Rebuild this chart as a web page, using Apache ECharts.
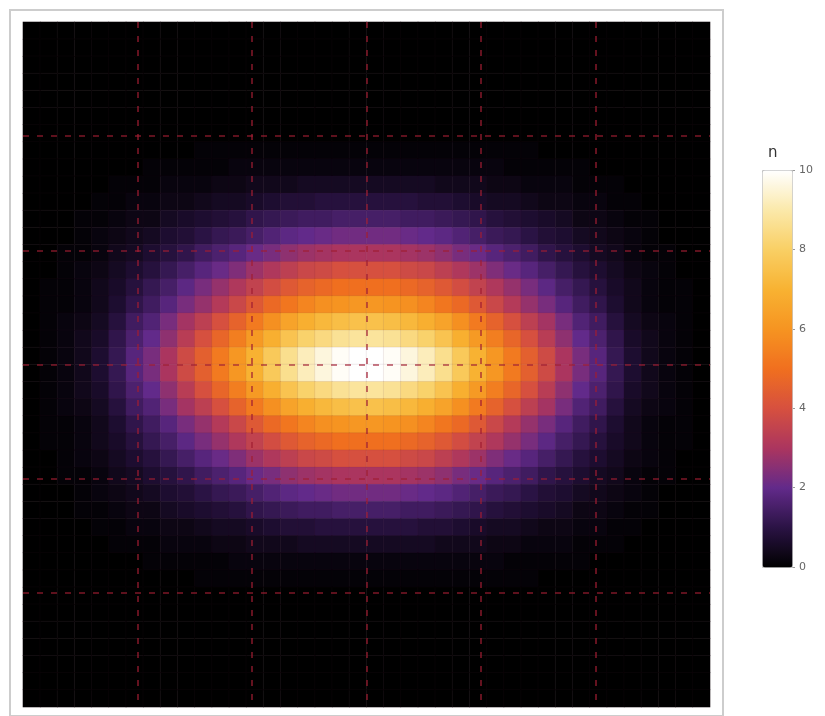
<!DOCTYPE html>
<html>
<head>
<meta charset="utf-8">
<script src="https://cdn.jsdelivr.net/npm/echarts@6/dist/echarts.min.js"></script>
<style>html,body{margin:0;padding:0;background:#fff}#c{width:825px;height:716px}</style>
</head>
<body>
<div id="c"></div>
<script>
// 40 x 40 cells, row 0 at the top, column 0 at the left; values of n
const Z = [0,0,0,0,0,0,0,0,0,0,0,0,0,0,0,0,0,0,0,0,0,0,0,0,0,0,0,0,0,0,0,0,0,0,0,0,0,0,0,0];
const nValues = [
  Z, Z, Z, Z, Z, Z, Z,
  [0,0,0,0,0,0,0,0,0,0,.1,.1,.1,.1,.1,.1,.1,.1,.1,.1,.1,.1,.1,.1,.1,.1,.1,.1,.1,.1,0,0,0,0,0,0,0,0,0,0],
  [0,0,0,0,0,0,0,.1,.1,.1,.1,.1,.2,.2,.2,.2,.2,.2,.2,.2,.2,.2,.2,.2,.2,.2,.2,.2,.1,.1,.1,.1,.1,0,0,0,0,0,0,0],
  [0,0,0,0,0,.1,.1,.1,.2,.2,.2,.3,.3,.4,.4,.4,.5,.5,.5,.5,.5,.5,.5,.5,.4,.4,.4,.3,.3,.2,.2,.2,.1,.1,.1,0,0,0,0,0],
  [0,0,0,0,.1,.1,.2,.2,.3,.3,.4,.5,.5,.6,.7,.8,.8,.9,.9,.9,.9,.9,.9,.8,.8,.7,.6,.5,.5,.4,.3,.3,.2,.2,.1,.1,0,0,0,0],
  [0,0,0,.1,.1,.2,.3,.3,.5,.6,.7,.8,.9,1.1,1.2,1.3,1.4,1.4,1.5,1.5,1.5,1.5,1.4,1.4,1.3,1.2,1.1,.9,.8,.7,.6,.5,.3,.3,.2,.1,.1,0,0,0],
  [0,0,0,.1,.2,.3,.4,.5,.7,.8,1,1.2,1.3,1.5,1.7,1.9,2,2.1,2.2,2.2,2.2,2.2,2.1,2,1.9,1.7,1.5,1.3,1.2,1,.8,.7,.5,.4,.3,.2,.1,0,0,0],
  [0,0,.1,.1,.2,.4,.5,.7,.9,1.1,1.4,1.6,1.8,2.1,2.3,2.6,2.8,2.9,3,3,3,3,2.9,2.8,2.6,2.3,2.1,1.8,1.6,1.4,1.1,.9,.7,.5,.4,.2,.1,.1,0,0],
  [0,0,.1,.2,.3,.5,.7,.9,1.2,1.5,1.8,2.1,2.4,2.8,3.1,3.4,3.7,3.8,4,4,4,4,3.8,3.7,3.4,3.1,2.8,2.4,2.1,1.8,1.5,1.2,.9,.7,.5,.3,.2,.1,0,0],
  [0,.1,.1,.2,.4,.6,.9,1.2,1.5,1.9,2.3,2.7,3.1,3.5,3.9,4.3,4.6,4.8,5,5,5,5,4.8,4.6,4.3,3.9,3.5,3.1,2.7,2.3,1.9,1.5,1.2,.9,.6,.4,.2,.1,.1,0],
  [0,.1,.1,.2,.4,.7,1.1,1.4,1.8,2.3,2.7,3.2,3.7,4.3,4.8,5.2,5.6,5.9,6,6.1,6.1,6,5.9,5.6,5.2,4.8,4.3,3.7,3.2,2.7,2.3,1.8,1.4,1.1,.7,.4,.2,.1,.1,0],
  [0,.1,.2,.3,.5,.9,1.4,1.7,2.3,2.9,3.4,4,4.6,5.3,5.9,6.5,6.9,7.2,7.4,7.5,7.5,7.4,7.2,6.9,6.5,5.9,5.3,4.6,4,3.4,2.9,2.3,1.7,1.4,.9,.5,.3,.2,.1,0],
  [0,.1,.2,.4,.6,1.1,1.6,2,2.6,3.3,4,4.7,5.4,6.2,6.9,7.6,8.1,8.4,8.7,8.8,8.8,8.7,8.4,8.1,7.6,6.9,6.2,5.4,4.7,4,3.3,2.6,2,1.6,1.1,.6,.4,.2,.1,0],
  [0,.1,.2,.4,.7,1.2,1.8,2.3,3,3.8,4.5,5.3,6.1,7,7.8,8.6,9.2,9.6,9.9,10,10,9.9,9.6,9.2,8.6,7.8,7,6.1,5.3,4.5,3.8,3,2.3,1.8,1.2,.7,.4,.2,.1,0],
  [0,.1,.2,.4,.7,1.2,1.8,2.3,3,3.8,4.5,5.3,6.1,7,7.8,8.6,9.2,9.6,9.9,10,10,9.9,9.6,9.2,8.6,7.8,7,6.1,5.3,4.5,3.8,3,2.3,1.8,1.2,.7,.4,.2,.1,0],
  [0,.1,.2,.4,.6,1.1,1.6,2,2.6,3.3,4,4.7,5.4,6.2,6.9,7.6,8.1,8.4,8.7,8.8,8.8,8.7,8.4,8.1,7.6,6.9,6.2,5.4,4.7,4,3.3,2.6,2,1.6,1.1,.6,.4,.2,.1,0],
  [0,.1,.2,.3,.5,.9,1.4,1.7,2.3,2.9,3.4,4,4.6,5.3,5.9,6.5,6.9,7.2,7.4,7.5,7.5,7.4,7.2,6.9,6.5,5.9,5.3,4.6,4,3.4,2.9,2.3,1.7,1.4,.9,.5,.3,.2,.1,0],
  [0,.1,.1,.2,.4,.7,1.1,1.4,1.8,2.3,2.7,3.2,3.7,4.3,4.8,5.2,5.6,5.9,6,6.1,6.1,6,5.9,5.6,5.2,4.8,4.3,3.7,3.2,2.7,2.3,1.8,1.4,1.1,.7,.4,.2,.1,.1,0],
  [0,.1,.1,.2,.4,.6,.9,1.2,1.5,1.9,2.3,2.7,3.1,3.5,3.9,4.3,4.6,4.8,5,5,5,5,4.8,4.6,4.3,3.9,3.5,3.1,2.7,2.3,1.9,1.5,1.2,.9,.6,.4,.2,.1,.1,0],
  [0,0,.1,.2,.3,.5,.7,.9,1.2,1.5,1.8,2.1,2.4,2.8,3.1,3.4,3.7,3.8,4,4,4,4,3.8,3.7,3.4,3.1,2.8,2.4,2.1,1.8,1.5,1.2,.9,.7,.5,.3,.2,.1,0,0],
  [0,0,.1,.1,.2,.4,.5,.7,.9,1.1,1.4,1.6,1.8,2.1,2.3,2.6,2.8,2.9,3,3,3,3,2.9,2.8,2.6,2.3,2.1,1.8,1.6,1.4,1.1,.9,.7,.5,.4,.2,.1,.1,0,0],
  [0,0,0,.1,.2,.3,.4,.5,.7,.8,1,1.2,1.3,1.5,1.7,1.9,2,2.1,2.2,2.2,2.2,2.2,2.1,2,1.9,1.7,1.5,1.3,1.2,1,.8,.7,.5,.4,.3,.2,.1,0,0,0],
  [0,0,0,.1,.1,.2,.3,.3,.5,.6,.7,.8,.9,1.1,1.2,1.3,1.4,1.4,1.5,1.5,1.5,1.5,1.4,1.4,1.3,1.2,1.1,.9,.8,.7,.6,.5,.3,.3,.2,.1,.1,0,0,0],
  [0,0,0,0,.1,.1,.2,.2,.3,.3,.4,.5,.5,.6,.7,.8,.8,.9,.9,.9,.9,.9,.9,.8,.8,.7,.6,.5,.5,.4,.3,.3,.2,.2,.1,.1,0,0,0,0],
  [0,0,0,0,0,.1,.1,.1,.2,.2,.2,.3,.3,.4,.4,.4,.5,.5,.5,.5,.5,.5,.5,.5,.4,.4,.4,.3,.3,.2,.2,.2,.1,.1,.1,0,0,0,0,0],
  [0,0,0,0,0,0,0,.1,.1,.1,.1,.1,.2,.2,.2,.2,.2,.2,.2,.2,.2,.2,.2,.2,.2,.2,.2,.2,.1,.1,.1,.1,.1,0,0,0,0,0,0,0],
  [0,0,0,0,0,0,0,0,0,0,.1,.1,.1,.1,.1,.1,.1,.1,.1,.1,.1,.1,.1,.1,.1,.1,.1,.1,.1,.1,0,0,0,0,0,0,0,0,0,0],
  Z, Z, Z, Z, Z, Z, Z
];
const gridRange = [-3, 3];          // data range spanned by the 40 cells on each axis
const gridStep = 1;                 // dashed reference lines
const colorbarTicks = [0, 2, 4, 6, 8, 10];
const nMin = 0, nMax = 10;
const sunset = ['#000000','#2a1344','#622a8a','#ab355f','#d6503f','#f06f1f','#f69421','#f8b232','#f9cf64','#fbe9aa','#ffffff'];

const xCats = nValues[0].map((_, i) => String(i));
const yCats = nValues.map((_, i) => String(i));
const heat = [];
nValues.forEach((row, r) => row.forEach((v, c) => heat.push([c, r, v])));

const dashStyle = { color: 'rgba(160,30,50,0.78)', width: 1.6, type: [6, 8] };
const refAxis = (grid) => ({
  type: 'value', gridIndex: grid, min: gridRange[0], max: gridRange[1], interval: gridStep,
  show: true, z: 10,
  axisLine: { show: false }, axisTick: { show: false }, axisLabel: { show: false },
  splitLine: { show: true, showMinLine: false, showMaxLine: false, lineStyle: dashStyle }
});

const chart = echarts.init(document.getElementById('c'), null, { renderer: 'canvas' });
chart.setOption({
  animation: false,
  backgroundColor: '#ffffff',
  graphic: [{
    type: 'rect', z: -10,
    shape: { x: 10, y: 10, width: 713, height: 706 },
    style: { fill: 'none', stroke: '#cdcdcd', lineWidth: 2 }
  }],
  title: {
    text: 'n', left: 763, top: 141,
    textStyle: { fontSize: 15, fontWeight: 'normal', color: '#333', fontFamily: 'DejaVu Sans' }
  },
  grid: [
    { left: 23, top: 22, width: 687, height: 685, show: false },
    { left: 762, top: 170, width: 30, height: 397, show: false }
  ],
  xAxis: [
    { type: 'category', gridIndex: 0, data: xCats, show: false },
    refAxis(0),
    { type: 'category', gridIndex: 1, data: ['n'], show: false }
  ],
  yAxis: [
    { type: 'category', gridIndex: 0, data: yCats, inverse: true, show: false },
    refAxis(0),
    {
      type: 'value', gridIndex: 1, min: nMin, max: nMax, interval: 2, position: 'right',
      axisLine: { show: false },
      axisTick: { show: true, length: 3, lineStyle: { color: '#9a9a9a' } },
      axisLabel: { fontSize: 11, color: '#666', margin: 7, fontFamily: 'DejaVu Sans',
                   customValues: colorbarTicks },
      splitLine: { show: false }
    }
  ],
  visualMap: {
    type: 'continuous', min: nMin, max: nMax, seriesIndex: 0, calculable: false,
    left: 762, top: 170, itemWidth: 30, itemHeight: 397, padding: 0,
    borderColor: '#c4c4c4', borderWidth: 1, hoverLink: false,
    inRange: { color: sunset }
  },
  series: [
    {
      type: 'heatmap', xAxisIndex: 0, yAxisIndex: 0, data: heat,
      itemStyle: { borderWidth: 0.5, borderColor: 'rgba(90,40,60,0.16)' },
      emphasis: { disabled: true }, progressive: 0
    },
    { type: 'scatter', xAxisIndex: 2, yAxisIndex: 2, data: [] }
  ]
});
</script>
</body>
</html>
